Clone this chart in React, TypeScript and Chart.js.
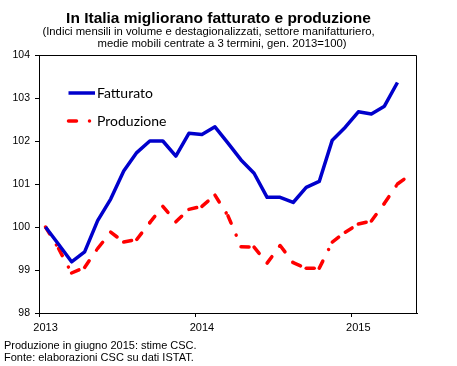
import React, { useEffect, useRef } from "react";
import { Chart, registerables } from "chart.js";

Chart.register(...registerables);

const titleText = "In Italia migliorano fatturato e produzione";
const subtitleLines = [
  "(Indici mensili in volume e destagionalizzati, settore manifatturiero,",
  "medie mobili centrate a 3 termini, gen. 2013=100)",
];
const footnotes = [
  "Produzione in giugno 2015: stime CSC.",
  "Fonte: elaborazioni CSC su dati ISTAT.",
];

const months = [
  "gen 2013", "feb 2013", "mar 2013", "apr 2013", "mag 2013", "giu 2013",
  "lug 2013", "ago 2013", "set 2013", "ott 2013", "nov 2013", "dic 2013",
  "gen 2014", "feb 2014", "mar 2014", "apr 2014", "mag 2014", "giu 2014",
  "lug 2014", "ago 2014", "set 2014", "ott 2014", "nov 2014", "dic 2014",
  "gen 2015", "feb 2015", "mar 2015", "apr 2015", "mag 2015",
];

const yearLabels = ["2013", "2014", "2015"];

const fatturato = [
  100.0, 99.6, 99.19, 99.42, 100.15, 100.65, 101.3, 101.73, 102.0, 102.0,
  101.65, 102.18, 102.15, 102.33, 101.95, 101.56, 101.25, 100.69, 100.69,
  100.57, 100.92, 101.06, 102.02, 102.32, 102.68, 102.63, 102.81, 103.36,
];

const produzione = [
  100.0, 99.5, 98.93, 99.06, 99.5, 99.88, 99.65, 99.71, 100.1, 100.48,
  100.12, 100.41, 100.48, 100.74, 100.26, 99.54, 99.53, 99.16, 99.57, 99.17,
  99.04, 99.04, 99.65, 99.88, 100.07, 100.14, 100.55, 101.0, 101.22,
];

const seriesNames = ["Fatturato", "Produzione"];

const BLUE = "#0000CC";
const RED = "#FF0000";
const RED_DASH = [8, 13, 0.01, 13];

const yearOf = (label: string) => label.split(" ")[1];

const decorPlugin = {
  id: "decor",
  afterDraw(chart: any) {
    const ctx = chart.ctx as CanvasRenderingContext2D;
    const a = chart.chartArea;
    ctx.save();
    // frame (top & right)
    ctx.strokeStyle = "#000";
    ctx.lineWidth = 1;
    ctx.beginPath();
    ctx.moveTo(Math.round(a.left) + 0.5, Math.round(a.top) + 0.5);
    ctx.lineTo(Math.round(a.right) - 0.5, Math.round(a.top) + 0.5);
    ctx.lineTo(Math.round(a.right) - 0.5, Math.round(a.bottom) + 0.5);
    ctx.stroke();

    // titles
    ctx.fillStyle = "#000";
    ctx.textAlign = "center";
    ctx.textBaseline = "alphabetic";
    ctx.font = 'bold 15.5px "Liberation Sans", Arial, sans-serif';
    ctx.fillText(titleText, 218.5, 22.5);
    ctx.font = '11.3px "Liberation Sans", Arial, sans-serif';
    ctx.fillText(subtitleLines[0], 208.5, 34.5);
    ctx.fillText(subtitleLines[1], 222, 47);

    // footnotes
    ctx.textAlign = "left";
    ctx.font = '11px "Liberation Sans", Arial, sans-serif';
    ctx.fillText(footnotes[0], 4, 349);
    ctx.fillText(footnotes[1], 4, 361);

    // legend
    const ds = chart.data.datasets;
    const items = [
      { y: 93, ds: ds[0] },
      { y: 121, ds: ds[1] },
    ];
    ctx.font = '14px Lato, "Noto Sans", sans-serif';
    ctx.textBaseline = "middle";
    for (const it of items) {
      ctx.save();
      ctx.strokeStyle = it.ds.borderColor;
      ctx.lineWidth = it.ds.borderWidth;
      ctx.lineCap = it.ds.borderCapStyle || "butt";
      ctx.setLineDash(it.ds.borderDash || []);
      ctx.beginPath();
      ctx.moveTo(68.5, it.y);
      ctx.lineTo(95, it.y);
      ctx.stroke();
      ctx.restore();
      ctx.fillStyle = "#000";
      ctx.fillText(it.ds.label, 97, it.y);
    }
    ctx.restore();
  },
};

export default function App() {
  const ref = useRef<HTMLCanvasElement | null>(null);

  useEffect(() => {
    if (!ref.current) return;
    const chart = new Chart(ref.current, {
      type: "line",
      data: {
        labels: months,
        datasets: [
          {
            label: seriesNames[0],
            data: fatturato,
            borderColor: BLUE,
            backgroundColor: BLUE,
            borderWidth: 3.5,
            pointRadius: 0,
            tension: 0,
            borderJoinStyle: "round",
            borderCapStyle: "butt",
          },
          {
            label: seriesNames[1],
            data: produzione,
            borderColor: RED,
            backgroundColor: RED,
            borderWidth: 3.5,
            pointRadius: 0,
            tension: 0,
            borderDash: RED_DASH,
            borderCapStyle: "round",
            borderJoinStyle: "round",
            segment: {
              borderDashOffset: (c: any) => (c.p0DataIndex % 2) * 0.001,
            },
          },
        ],
      },
      options: {
        responsive: false,
        animation: false,
        devicePixelRatio: 1,
        layout: { padding: { top: 55, right: 40, left: 0, bottom: 0 } },
        plugins: {
          legend: { display: false },
          title: { display: false },
          tooltip: { enabled: false },
        },
        scales: {
          x: {
            type: "category",
            offset: true,
            grid: {
              offset: true,
              drawOnChartArea: false,
              drawTicks: true,
              tickLength: 4,
              lineWidth: 1,
              color: (c: any) =>
                c.type === "tick" && months[c.index] && months[c.index].startsWith("gen")
                  ? "#000"
                  : "rgba(0,0,0,0)",
            },
            border: { display: true, color: "#000", width: 1 },
            ticks: {
              autoSkip: false,
              maxRotation: 0,
              minRotation: 0,
              padding: 4,
              color: "#000",
              font: { family: '"Liberation Sans", Arial, sans-serif', size: 11 },
              callback: (_v: any, i: number) => {
                const m = months[i];
                if (!m || !m.startsWith("gen")) return "";
                const y = yearOf(m);
                return yearLabels.includes(y) ? y : "";
              },
            },
            afterFit: (s: any) => {
              s.height = 53;
            },
          },
          y: {
            min: 98,
            max: 104,
            grid: {
              drawOnChartArea: false,
              drawTicks: true,
              tickLength: 4,
              color: "#000",
              lineWidth: 1,
            },
            border: { display: true, color: "#000", width: 1 },
            ticks: {
              stepSize: 1,
              padding: 5,
              color: "#000",
              font: { family: '"Liberation Sans", Arial, sans-serif', size: 10.5 },
            },
            afterFit: (s: any) => {
              s.width = 39;
            },
          },
        },
      },
      plugins: [decorPlugin],
    });
    return () => chart.destroy();
  }, []);

  return (
    <div style={{ position: "fixed", left: 0, top: 0, width: 457, height: 366, background: "#fff" }}>
      <canvas ref={ref} width={457} height={366} style={{ display: "block", width: 457, height: 366 }} />
    </div>
  );
}
